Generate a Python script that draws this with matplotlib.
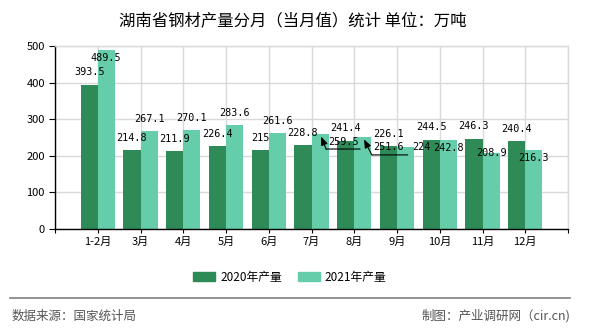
import matplotlib
matplotlib.use("Agg")
import matplotlib.pyplot as plt
from matplotlib.lines import Line2D
from matplotlib.patches import Patch
from matplotlib.transforms import offset_copy
import numpy as np

plt.rcParams['font.family'] = ['Noto Sans CJK SC', 'DejaVu Sans']

# ---- data ----
categories = ['1-2月', '3月', '4月', '5月', '6月', '7月', '8月', '9月', '10月', '11月', '12月']
values_2020 = [393.5, 214.8, 211.9, 226.4, 215, 228.8, 241.4, 226.1, 244.5, 246.3, 240.4]
values_2021 = [489.5, 267.1, 270.1, 283.6, 261.6, 259.5, 251.6, 224, 242.8, 208.9, 216.3]
series_names = ['2020年产量', '2021年产量']
yticks = [0, 100, 200, 300, 400, 500]

title = '湖南省钢材产量分月（当月值）统计 单位：万吨'
source_left = '数据来源：国家统计局'
source_right = '制图：产业调研网（cir.cn)'

# ---- style ----
c2020 = '#2E8B57'
c2021 = '#66CDAA'
grid_c = '#d9d9d9'
bar_w = 0.4

# label placement (pixel offsets of label centre from bar top); None -> leader label
off_2020 = [(0, 12.5)] * 11
off_2021 = [(0, -8), (0, 12.5), (0, 12.5), (0, 12.5), (0, 12.5),
            'lead1', 'lead2', (16, 0), (0, -8), (0, 0), (0, -8)]
leaders = {
    'lead1': dict(text=(23, -8), ul=((6, -15), (40, -15))),
    'lead2': dict(text=(26, -10), ul=((9, -18), (45, -18))),
}

fig = plt.figure(figsize=(5.9, 3.3), dpi=100)
ax = fig.add_axes([55 / 590, 1 - 229 / 330, 513 / 590, 183 / 330])

x = np.arange(1, len(categories) + 1)
ax.bar(x - bar_w / 2, values_2020, width=bar_w, color=c2020, zorder=2)
ax.bar(x + bar_w / 2, values_2021, width=bar_w, color=c2021, zorder=2)

ax.set_xlim(0, len(categories) + 1)
ax.set_ylim(0, 500)
ax.set_yticks(yticks)
ax.set_xticks(np.arange(0, len(categories) + 2))
ax.set_xticklabels([''] + categories + [''])
ax.tick_params(axis='y', length=4.3, width=0.8, pad=3, labelsize=8, colors='black')
ax.tick_params(axis='x', length=3, width=0.8, pad=3, labelsize=8, colors='black')
ax.grid(True, color=grid_c, lw=1, zorder=0)
ax.set_axisbelow(True)
for s in ['left', 'bottom']:
    ax.spines[s].set_color('black')
    ax.spines[s].set_linewidth(1)
for s in ['top', 'right']:
    ax.spines[s].set_color(grid_c)
    ax.spines[s].set_linewidth(1)

lab_font = dict(family='DejaVu Sans Mono', size=7.3, color='black')


def fmt(v):
    return ('%g' % v)


def put_labels(xs, vals, offs):
    for xi, v, o in zip(xs, vals, offs):
        if isinstance(o, str):
            L = leaders[o]
            ax.annotate(fmt(v), xy=(xi, v), xytext=L['text'], textcoords='offset pixels',
                        ha='center', va='center', zorder=5, **lab_font)
            (ux0, uy0), (ux1, uy1) = L['ul']
            ax.annotate('', xy=(xi, v), xytext=(ux0, uy0), textcoords='offset pixels',
                        arrowprops=dict(arrowstyle='-|>,head_length=0.5,head_width=0.2',
                                        color='black', lw=0.8, shrinkA=0, shrinkB=2),
                        zorder=5)
            tr = offset_copy(ax.transData, fig=fig, x=ux1, y=uy1, units='dots')
            ax.annotate('', xy=(xi, v), xycoords=tr, xytext=(ux0 - ux1, uy0 - uy1),
                        textcoords='offset pixels',
                        arrowprops=dict(arrowstyle='-', color='black', lw=0.8,
                                        shrinkA=0, shrinkB=0),
                        zorder=5)
        else:
            ax.annotate(fmt(v), xy=(xi, v), xytext=o, textcoords='offset pixels',
                        ha='center', va='center', zorder=5, **lab_font)


put_labels(x - bar_w / 2, values_2020, off_2020)
put_labels(x + bar_w / 2, values_2021, off_2021)

fig.text(0.497, 1 - 20.5 / 330, title, ha='center', va='center', fontsize=11.8, color='black')

handles = [Patch(color=c2020, label=series_names[0]), Patch(color=c2021, label=series_names[1])]
fig.legend(handles=handles, loc='center', bbox_to_anchor=(290 / 590, 1 - 277 / 330), ncol=2,
           frameon=False, fontsize=8.5, handlelength=1.86, handleheight=0.76,
           handletextpad=0.42, columnspacing=1.35, borderpad=0, borderaxespad=0)

fig.add_artist(Line2D([10 / 590, 570 / 590], [1 - 298 / 330, 1 - 298 / 330],
                      transform=fig.transFigure, color='#808080', lw=1.2))
fig.text(12 / 590, 1 - 316 / 330, source_left, ha='left', va='center', fontsize=9, color='#555555')
fig.text(570 / 590, 1 - 316 / 330, source_right, ha='right', va='center', fontsize=9, color='#555555')

fig.savefig('out.png', dpi=100)
